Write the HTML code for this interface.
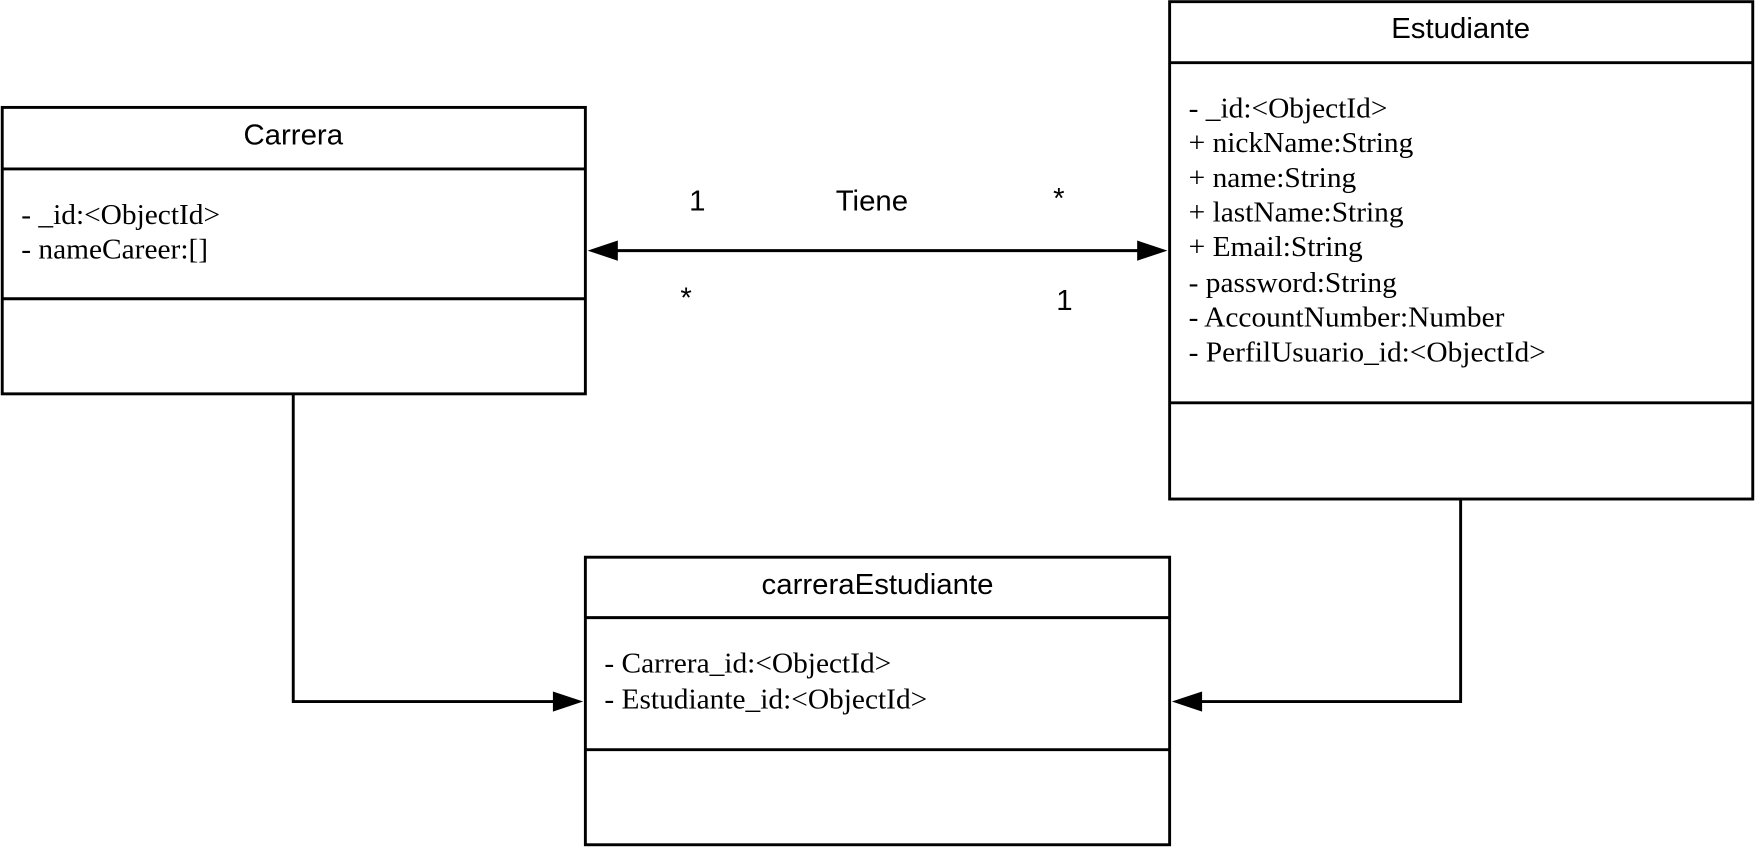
<!DOCTYPE html>
<html><head><meta charset="utf-8"><style>html,body{margin:0;padding:0;background:#fff}svg{display:block}</style></head>
<body>
<svg width="1755" height="847" viewBox="0 0 1568 757" preserveAspectRatio="none" xmlns="http://www.w3.org/2000/svg">
<g fill="none" stroke="#000" stroke-width="2.6">
<rect x="2" y="96" width="521" height="256"/>
<line x1="2" y1="151" x2="523" y2="151"/>
<line x1="2" y1="267" x2="523" y2="267"/>
<rect x="1045" y="1.5" width="521" height="444.5"/>
<line x1="1045" y1="56" x2="1566" y2="56"/>
<line x1="1045" y1="360" x2="1566" y2="360"/>
<rect x="523" y="498" width="522" height="257"/>
<line x1="523" y1="552" x2="1045" y2="552"/>
<line x1="523" y1="670" x2="1045" y2="670"/>
<line x1="548" y1="224" x2="1020" y2="224"/>
<polyline points="262,352 262,627 498,627"/>
<polyline points="1305,446 1305,627 1070,627"/>
</g>
<g fill="#000">
<polygon points="525,224 552,215 552,233"/>
<polygon points="1043,224 1016,215 1016,233"/>
<polygon points="521,627 494,618 494,636"/>
<polygon points="1047,627 1074,618 1074,636"/>
</g>
<g font-family="Liberation Sans, sans-serif" font-size="25.5" text-anchor="middle" fill="#000">
<text transform="translate(262,129) scale(1.03,1)">Carrera</text>
<text transform="translate(1305,34) scale(1.03,1)">Estudiante</text>
<text transform="translate(784,531) scale(1.03,1)">carreraEstudiante</text>
<text transform="translate(623,188) scale(1.03,1)">1</text>
<text transform="translate(779,188) scale(1.03,1)">Tiene</text>
<text transform="translate(946,186) scale(1.03,1)">*</text>
<text transform="translate(613,275) scale(1.03,1)">*</text>
<text transform="translate(951,277) scale(1.03,1)">1</text>
</g>
<g font-family="Liberation Serif, serif" font-size="25.5" fill="#000">
<text transform="translate(19,200) scale(1.03,1)">- _id:&lt;ObjectId&gt;</text>
<text transform="translate(19,231) scale(1.03,1)">- nameCareer:[]</text>
<text transform="translate(1062,105) scale(1.03,1)">- _id:&lt;ObjectId&gt;</text>
<text transform="translate(1062,136) scale(1.03,1)">+ nickName:String</text>
<text transform="translate(1062,167) scale(1.03,1)">+ name:String</text>
<text transform="translate(1062,198) scale(1.03,1)">+ lastName:String</text>
<text transform="translate(1062,229) scale(1.03,1)">+ Email:String</text>
<text transform="translate(1062,261) scale(1.03,1)">- password:String</text>
<text transform="translate(1062,292) scale(1.03,1)">- AccountNumber:Number</text>
<text transform="translate(1062,323) scale(1.03,1)">- PerfilUsuario_id:&lt;ObjectId&gt;</text>
<text transform="translate(540,601) scale(1.03,1)">- Carrera_id:&lt;ObjectId&gt;</text>
<text transform="translate(540,633) scale(1.03,1)">- Estudiante_id:&lt;ObjectId&gt;</text>
</g>
</svg>
</body></html>
